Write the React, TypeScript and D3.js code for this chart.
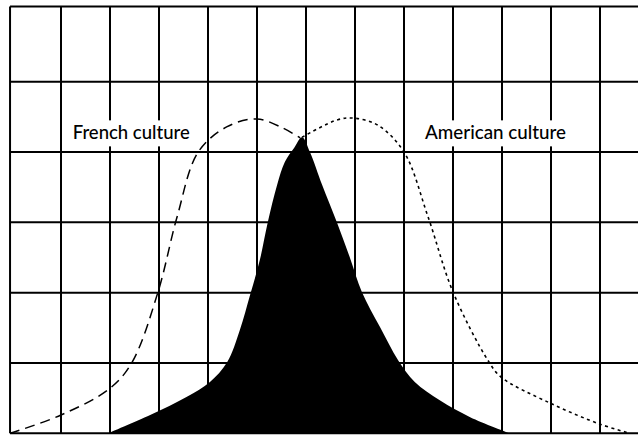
import React from "react";
import * as d3 from "d3";

// Chart size
const W = 638;
const H = 435;

// Grid: column lines at u = 1..12, row lines at v = 0..5, outer frame
const gridCols = [1, 2, 3, 4, 5, 6, 7, 8, 9, 10, 11, 12];
const gridRows = [0, 1, 2, 3, 4, 5];
const frameLeft = -0.04;
const frameTop = 6.07;

// French culture distribution (dashed)
const frenchU = [-0.04, 1.0, 2.0, 2.45, 2.98, 3.37, 3.8, 4.39, 5.0, 5.53, 5.88];
const frenchV = [0.0, 0.26, 0.64, 1.01, 2.01, 3.08, 4.0, 4.36, 4.47, 4.34, 4.2];

// American culture distribution (dotted)
const americanU = [5.92, 6.65, 7.0, 7.47, 8.0, 8.49, 9.0, 9.71, 9.98, 10.98, 12.0, 12.61];
const americanV = [4.21, 4.46, 4.48, 4.38, 4.0, 3.08, 2.01, 1.04, 0.8, 0.43, 0.13, 0.0];

// Shared (overlap) distribution, filled black
const sharedU = [1.96, 2.82, 3.57, 4.04, 4.39, 4.65, 4.86, 5.06, 5.22, 5.41, 5.57, 5.76, 5.92, 6.08, 6.33, 6.63, 6.9, 7.14, 7.51, 7.88, 8.22, 8.73, 9.35, 10.16];
const sharedV = [0.0, 0.26, 0.52, 0.73, 1.01, 1.47, 1.97, 2.47, 3.0, 3.53, 3.86, 4.06, 4.21, 4.0, 3.53, 3.0, 2.49, 2.01, 1.51, 1.04, 0.73, 0.47, 0.23, 0.0];

// Labels
const labelText = ["French culture", "American culture"];
const labelU = [1.24, 8.43];
const labelV = [4.18, 4.18];
const labelWidth = [117, 141];

type Pt = [number, number];
const zip = (us: number[], vs: number[]): Pt[] => us.map((u, i) => [u, vs[i]]);

export default function App() {
  const x = d3.scaleLinear().domain([1, 12]).range([61, 600]);
  const y = d3.scaleLinear().domain([0, 5]).range([433.3, 81.7]);

  const line = d3
    .line<Pt>()
    .x((d) => x(d[0]))
    .y((d) => y(d[1]))
    .curve(d3.curveCatmullRom.alpha(0.5));

  const area = d3
    .area<Pt>()
    .x((d) => x(d[0]))
    .y0(y(0))
    .y1((d) => y(d[1]))
    .curve(d3.curveCatmullRom.alpha(0.5));

  const x0 = x(frameLeft);
  const yTop = y(frameTop);
  const yBottom = y(0);

  return (
    <svg
      width={W}
      height={H}
      viewBox={`0 0 ${W} ${H}`}
      style={{ position: "absolute", left: 0, top: 0, background: "#fff" }}
    >
      <rect x={0} y={0} width={W} height={H} fill="#fff" />

      {/* grid */}
      <g stroke="#000" strokeWidth={2}>
        {gridCols.map((c) => (
          <line key={`c${c}`} x1={x(c)} x2={x(c)} y1={yTop} y2={yBottom} />
        ))}
        {gridRows.map((r) => (
          <line key={`r${r}`} x1={x0} x2={W + 2} y1={y(r)} y2={y(r)} />
        ))}
        <line x1={x0} x2={x0} y1={yTop} y2={yBottom} />
        <line x1={x0} x2={W + 2} y1={yTop} y2={yTop} />
      </g>

      {/* shared area */}
      <path d={area(zip(sharedU, sharedV)) || ""} fill="#000" />

      {/* cultures */}
      <path
        d={line(zip(frenchU, frenchV)) || ""}
        fill="none"
        stroke="#000"
        strokeWidth={1.5}
        strokeDasharray="10 6"
      />
      <path
        d={line(zip(americanU, americanV)) || ""}
        fill="none"
        stroke="#000"
        strokeWidth={1.6}
        strokeDasharray="3 3.5"
      />

      {/* labels */}
      {labelText.map((t, i) => {
        const lx = x(labelU[i]);
        const ly = y(labelV[i]);
        return (
          <g key={t}>
            <rect x={lx - 5} y={ly - 19} width={labelWidth[i] + 10} height={26} fill="#fff" />
            <text
              x={lx}
              y={ly}
              fontFamily="Lato, 'Open Sans', sans-serif"
              fontSize={19}
              fontWeight={500}
              fill="#000"
              textLength={labelWidth[i]}
              lengthAdjust="spacingAndGlyphs"
            >
              {t}
            </text>
          </g>
        );
      })}
    </svg>
  );
}
